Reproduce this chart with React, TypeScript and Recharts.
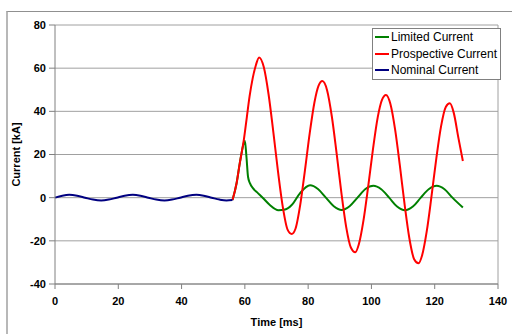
import { CartesianGrid, Line, LineChart, ReferenceLine, XAxis, YAxis } from 'recharts'

// time [ms] / current [kA]
const nominalTime = [0, 2.3, 4.5, 7, 9.5, 12, 14.6, 17, 19.5, 22, 24.6, 27, 29.5, 32, 34.6, 37, 39.5, 42, 44.7, 47, 49.5, 52, 54.2, 56.1]
const nominalCurrent = [0, 0.9, 1.3, 0.9, 0, -0.9, -1.3, -0.9, 0, 0.9, 1.3, 0.9, 0, -0.9, -1.3, -0.9, 0, 0.9, 1.3, 0.9, 0, -0.9, -1.3, -1.1]

const prospectiveTime = [
  56.1, 57.4, 58.4, 59.7, 60.6, 61.5, 62.5, 63.5, 64.5, 66, 67.5, 69, 70.5, 72, 73.5, 74.8, 76, 77.5, 79, 80.5, 82, 83.3,
  84.5, 86, 87.5, 89, 90.5, 92, 93.5, 94.9, 96, 97.5, 99, 100.5, 102, 103.3, 104.6, 106, 107.5, 109, 110.5, 112, 113.5,
  114.9, 116, 117.5, 119, 120.5, 122, 123.5, 124.8, 126, 127.5, 128.9,
]
const prospectiveCurrent = [
  -1.1, 6.8, 16, 27, 37, 47, 55.5, 61.5, 65, 60.4, 47.8, 30.4, 11.8, -4.4, -14.8, -16.8, -14.4, -3.3, 12.8, 29.9, 44.2, 51.9,
  54, 49.7, 37.5, 20.5, 2.3, -13.4, -23.1, -25.3, -21.7, -10.4, 5.5, 22.6, 37.3, 45.2, 47.6, 43.4, 31.4, 14.7, -3.3, -18.9,
  -28.5, -30.4, -26.8, -15.4, 0.8, 18.1, 33, 42, 43.7, 39.4, 27.6, 17,
]

const limitedTime = [
  56.1, 57.4, 58.4, 59.6, 60, 60.5, 61, 61.6, 62.6, 64.2, 65.8, 67.9, 70.6, 72.7, 74.8, 77.4, 80.6, 83.1, 85.6, 88.1, 90.6,
  93.1, 95.6, 98.1, 100.6, 103.1, 105.6, 108.1, 110.6, 113.1, 115.6, 118.1, 120.6, 123.1, 125.6, 128.9,
]
const limitedCurrent = [
  -1.1, 6.8, 16, 25, 26.4, 19, 9.7, 6.7, 4.3, 2, -0.3, -3.4, -5.8, -5.5, -3.4, 2, 5.7, 4, 0, -4, -5.7, -4, 0, 4, 5.5, 3.9,
  0, -4.1, -5.8, -4.1, 0, 3.9, 5.5, 3.9, 0, -4.6,
]

const xTicks = [0, 20, 40, 60, 80, 100, 120, 140]
const yTicks = [-40, -20, 0, 20, 40, 60, 80]

const toPoints = (t: number[], v: number[]) => t.map((time, i) => ({ t: time, v: v[i] }))

const series = [
  { name: 'Limited Current', color: '#008000', data: toPoints(limitedTime, limitedCurrent) },
  { name: 'Prospective Current', color: '#ff0000', data: toPoints(prospectiveTime, prospectiveCurrent) },
  { name: 'Nominal Current', color: '#000080', data: toPoints(nominalTime, nominalCurrent) },
]

const font = "'Liberation Sans', Arial, sans-serif"
const tickStyle = { fontSize: 11, fontWeight: 'bold', fill: '#000', fontFamily: font }

export default function App() {
  return (
    <div style={{ position: 'fixed', left: 0, top: 0, width: 512, height: 334, overflow: 'hidden', background: '#fff' }}>
      <div
        style={{
          position: 'absolute',
          left: 6,
          top: 11,
          width: 540,
          height: 360,
          borderTop: '1px solid #909090',
          borderLeft: '2px solid #b8b8b8',
        }}
      />
      <div style={{ position: 'absolute', left: 0, top: 0 }}>
        <LineChart width={512} height={334} margin={{ top: 25, right: 14, bottom: 30, left: 10 }} style={{ fontFamily: font }}>
          <CartesianGrid vertical={false} stroke="#a0a0a0" />
          <XAxis
            type="number"
            dataKey="t"
            domain={[0, 140]}
            ticks={xTicks}
            height={20}
            tickSize={5}
            tickMargin={8}
            stroke="#808080"
            tick={tickStyle}
          />
          <YAxis
            type="number"
            dataKey="v"
            domain={[-40, 80]}
            ticks={yTicks}
            width={45}
            tickSize={6}
            tickMargin={3}
            stroke="#808080"
            tick={tickStyle}
          />
          <ReferenceLine x={140} stroke="#a0a0a0" />
          {series.map((s) => (
            <Line
              key={s.name}
              data={s.data}
              dataKey="v"
              name={s.name}
              type="monotone"
              stroke={s.color}
              strokeWidth={2}
              dot={false}
              isAnimationActive={false}
            />
          ))}
        </LineChart>
      </div>
      <svg width={512} height={334} style={{ position: 'absolute', left: 0, top: 0, pointerEvents: 'none' }}>
        <text
          x={16}
          y={154.5}
          transform="rotate(-90 16 154.5)"
          textAnchor="middle"
          dominantBaseline="central"
          style={{ fontSize: 11, fontWeight: 'bold', fontFamily: font }}
        >
          Current [kA]
        </text>
        <text
          x={276.5}
          y={321.5}
          textAnchor="middle"
          dominantBaseline="central"
          style={{ fontSize: 11, fontWeight: 'bold', fontFamily: font }}
        >
          Time [ms]
        </text>
      </svg>
      <div
        style={{
          position: 'absolute',
          left: 372,
          top: 28,
          width: 127,
          border: '1px solid #808080',
          background: '#fff',
          fontFamily: font,
          fontSize: 12,
          padding: 0,
        }}
      >
        {series.map((s) => (
          <div key={s.name} style={{ display: 'flex', alignItems: 'center', height: 16.5, whiteSpace: 'nowrap' }}>
            <span style={{ display: 'inline-block', width: 14, height: 2, background: s.color, margin: '0 2px 0 2px' }} />
            <span>{s.name}</span>
          </div>
        ))}
      </div>
    </div>
  )
}
